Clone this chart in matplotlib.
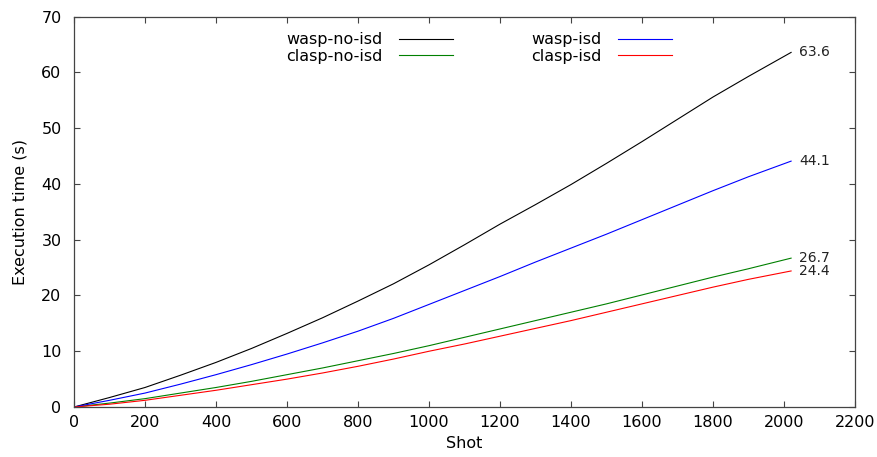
import matplotlib
matplotlib.use("Agg")
import matplotlib.pyplot as plt

# Shot values and execution times
shots = [0, 100, 200, 300, 400, 500, 600, 700, 800, 900, 1000,
         1100, 1200, 1300, 1400, 1500, 1600, 1700, 1800, 1900, 2020]
wasp_no_isd = [0, 1.7, 3.5, 5.7, 8.0, 10.5, 13.2, 16.0, 19.0, 22.1, 25.5,
               29.1, 32.8, 36.3, 39.9, 43.7, 47.6, 51.6, 55.6, 59.3, 63.6]
wasp_isd = [0, 1.2, 2.5, 4.1, 5.8, 7.6, 9.5, 11.5, 13.6, 15.9, 18.4,
            20.9, 23.4, 26.0, 28.5, 31.0, 33.6, 36.2, 38.8, 41.3, 44.1]
clasp_no_isd = [0, 0.7, 1.5, 2.5, 3.5, 4.6, 5.8, 7.0, 8.3, 9.6, 11.0,
                12.5, 14.0, 15.5, 17.0, 18.5, 20.1, 21.7, 23.3, 24.8, 26.7]
clasp_isd = [0, 0.5, 1.2, 2.1, 3.0, 4.0, 5.0, 6.1, 7.3, 8.6, 10.0,
             11.3, 12.7, 14.1, 15.5, 17.0, 18.5, 20.0, 21.5, 22.9, 24.4]

series = [("wasp-no-isd", wasp_no_isd, "black"),
          ("clasp-no-isd", clasp_no_isd, "green"),
          ("wasp-isd", wasp_isd, "blue"),
          ("clasp-isd", clasp_isd, "red")]

plt.rcParams["font.family"] = "DejaVu Sans"
plt.rcParams["font.size"] = 11.5

fig = plt.figure(figsize=(8.78, 4.57), dpi=100)
ax = fig.add_axes([0.0843, 0.1094, 0.8895, 0.854])

for name, vals, col in series:
    ax.plot(shots, vals, color=col, lw=0.8, label=name)
    ax.text(shots[-1] + 22, vals[-1], f"{vals[-1]:.1f}", va="center", ha="left",
            color="#222222", fontsize=10)

ax.set_xlim(0, 2200)
ax.set_ylim(0, 70)
ax.set_xticks(range(0, 2201, 200))
ax.set_yticks(range(0, 71, 10))
ax.tick_params(direction="in", top=True, right=True, length=4.5, width=0.8,
               color="#444444")
ax.tick_params(axis="y", pad=9)
ax.tick_params(axis="x", pad=6)
for s in ax.spines.values():
    s.set_color("#444444")
    s.set_linewidth(0.9)

ax.set_xlabel("Shot", labelpad=4)
ax.set_ylabel("Execution time (s)", labelpad=10)

ax.legend(ncol=2, loc="upper center", bbox_to_anchor=(0.519, 0.985), frameon=False,
          markerfirst=False, handlelength=3.4, columnspacing=4.9,
          labelspacing=0.1, handletextpad=1.0, borderaxespad=0.2)

fig.savefig("out.png", dpi=100)
